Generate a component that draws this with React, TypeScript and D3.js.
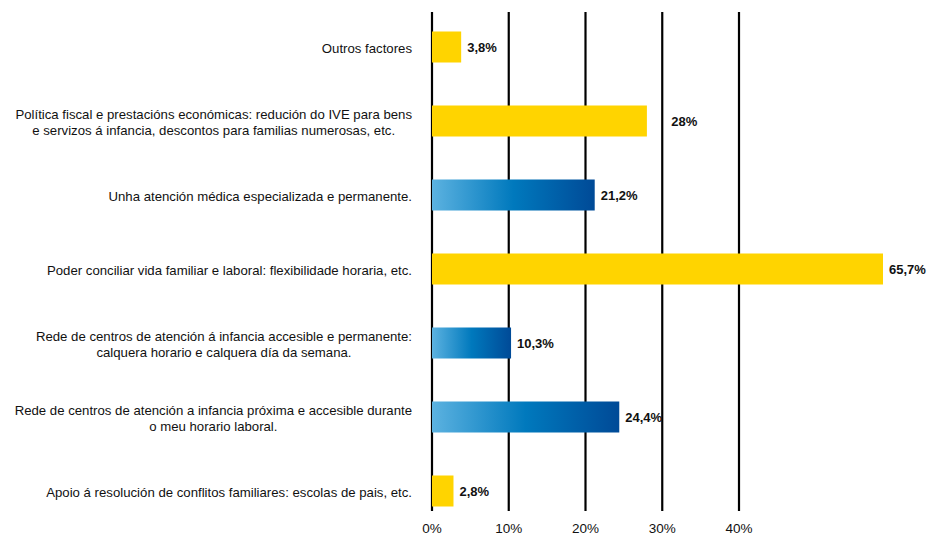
import React, { useRef, useEffect } from 'react'
import { select, scaleLinear, scaleBand, scaleOrdinal } from 'd3'

const categories = [
  ['Outros factores'],
  ['Política fiscal e prestacións económicas: redución do IVE para bens', 'e servizos á infancia, descontos para familias numerosas, etc.'],
  ['Unha atención médica especializada e permanente.'],
  ['Poder conciliar vida familiar e laboral: flexibilidade horaria, etc.'],
  ['Rede de centros de atención á infancia accesible e permanente:', 'calquera horario e calquera día da semana.'],
  ['Rede de centros de atención a infancia próxima e accesible durante', 'o meu horario laboral.'],
  ['Apoio á resolución de conflitos familiares: escolas de pais, etc.'],
]
const values = [3.8, 28, 21.2, 65.7, 10.3, 24.4, 2.8]
const valueLabels = ['3,8%', '28%', '21,2%', '65,7%', '10,3%', '24,4%', '2,8%']
const groups = ['other', 'other', 'care', 'other', 'care', 'care', 'other']
const ticks = [0, 10, 20, 30, 40]

export default function App() {
  const canvas = useRef(null)

  const W = 928
  const H = 535
  const plotLeft = 432
  const plotRight = 883
  const labelRight = 412
  const font = '"Liberation Sans", Arial, sans-serif'

  useEffect(() => {
    const svg = select(canvas.current)
    svg.selectAll('*').remove()

    const defs = svg.append('defs')
    const grad = defs.append('linearGradient').attr('id', 'blueGrad').attr('x1', 0).attr('x2', 1).attr('y1', 0).attr('y2', 0)
    grad.append('stop').attr('offset', '0%').attr('stop-color', '#5cb2e0')
    grad.append('stop').attr('offset', '50%').attr('stop-color', '#0079bd')
    grad.append('stop').attr('offset', '100%').attr('stop-color', '#004a97')

    const x = scaleLinear().domain([0, 40]).range([plotLeft, 739])
    const y = scaleBand().domain(categories.map((d, i) => String(i))).range([10, 528]).padding(0)
    const color = scaleOrdinal().domain(['other', 'care']).range(['#ffd400', 'url(#blueGrad)'])
    const barH = 31

    // gridlines
    svg.append('g').selectAll('line').data(ticks).join('line')
      .attr('x1', d => x(d)).attr('x2', d => x(d))
      .attr('y1', 12).attr('y2', 511)
      .attr('stroke', '#000').attr('stroke-width', 2.2)

    // tick labels
    svg.append('g').selectAll('text').data(ticks).join('text')
      .attr('x', d => x(d)).attr('y', 533)
      .attr('text-anchor', 'middle')
      .attr('font-family', font).attr('font-size', 13.5).attr('fill', '#111')
      .text(d => d + '%')

    const rows = svg.append('g').selectAll('g').data(values).join('g')

    rows.append('rect')
      .attr('x', plotLeft)
      .attr('y', (d, i) => y(String(i)) + y.bandwidth() / 2 - barH / 2)
      .attr('width', d => Math.min(x(d), plotRight) - plotLeft)
      .attr('height', barH)
      .attr('fill', (d, i) => color(groups[i]))

    const vl = rows.append('text')
      .attr('x', d => Math.min(x(d), plotRight) + 6)
      .attr('y', (d, i) => y(String(i)) + y.bandwidth() / 2)
      .attr('dy', '0.35em')
      .attr('font-family', font).attr('font-size', 13).attr('font-weight', 'bold').attr('fill', '#111')
      .text((d, i) => valueLabels[i])

    // push a value label past a gridline it would sit on
    vl.each(function () {
      const t = this as SVGTextElement
      const lx = +t.getAttribute('x')
      const w = t.getComputedTextLength()
      const hit = ticks.map(x).find(gx => gx > lx - 2 && gx < lx + w)
      if (hit !== undefined) t.setAttribute('x', String(hit + 9))
    })

    // category labels: lines centered with each other, block right aligned
    categories.forEach((lines, i) => {
      const cy = y(String(i)) + y.bandwidth() / 2 + 1
      const g = svg.append('g')
      const texts = lines.map((line, j) =>
        g.append('text')
          .attr('y', cy + (j - (lines.length - 1) / 2) * 16)
          .attr('dy', '0.35em')
          .attr('text-anchor', 'middle')
          .attr('font-family', font).attr('font-size', 13.2).attr('fill', '#111')
          .text(line)
      )
      const widths = texts.map(t => (t.node() as SVGTextElement).getComputedTextLength())
      const maxW = Math.max(...widths)
      const center = labelRight - maxW / 2
      texts.forEach(t => t.attr('x', center))
    })
  })

  return (
    <svg ref={canvas} width={W} height={H} style={{ position: 'absolute', left: 0, top: 0, background: '#fff' }} />
  )
}
